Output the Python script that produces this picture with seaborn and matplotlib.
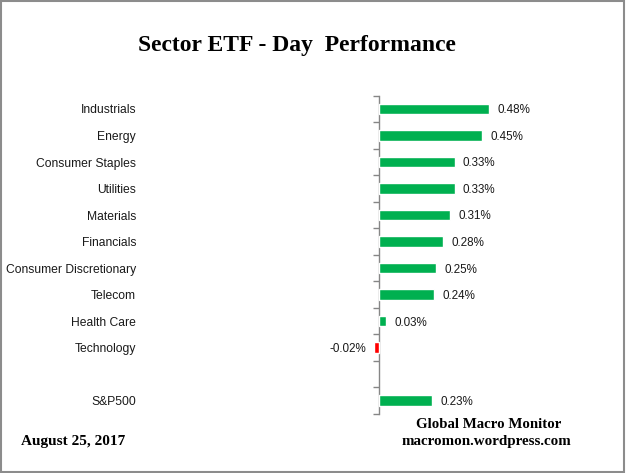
import numpy as np
import pandas as pd
import seaborn as sns
import matplotlib.pyplot as plt
from matplotlib.patches import Rectangle

sectors = ['Industrials', 'Energy', 'Consumer Staples', 'Utilities', 'Materials',
           'Financials', 'Consumer Discretionary', 'Telecom', 'Health Care',
           'Technology', ' ', 'S&P500']
returns = [0.48, 0.45, 0.33, 0.33, 0.31, 0.28, 0.25, 0.24, 0.03, -0.02, np.nan, 0.23]

GREEN = '#00B050'
RED = '#FF0000'
GRID = '#868686'

df = pd.DataFrame({'Sector': sectors, 'Return': returns})
colors = [RED if v < 0 else GREEN for v in returns]

sns.set_style('white')
plt.rcParams['font.family'] = ['Liberation Sans', 'DejaVu Sans']

fig = plt.figure(figsize=(6.26, 4.73), dpi=100)
ax = fig.add_axes([139 / 626, 1 - 414 / 473, (600 - 139) / 626, (414 - 95.7) / 473])

sns.barplot(data=df, y='Sector', x='Return', hue='Sector', order=sectors,
            hue_order=sectors, palette=colors, legend=False, width=0.4,
            saturation=1, orient='h', ax=ax)

ax.set_xlim(-(379 - 139) / 229, (600 - 379) / 229)
ax.set_xlabel('')
ax.set_ylabel('')
ax.set_xticks([])
for s in ax.spines.values():
    s.set_visible(False)
ax.tick_params(axis='y', length=0, pad=2, labelsize=8.7, labelcolor='#1a1a1a')

# category axis drawn at zero, with ticks between categories
sec = ax.secondary_yaxis(0, transform=ax.transData)
sec.set_yticks(np.arange(-0.5, len(sectors), 1))
sec.set_yticklabels([])
sec.tick_params(direction='out', length=4, color=GRID, width=1)
sec.spines['left'].set_color(GRID)
sec.spines['left'].set_linewidth(1)

for i, v in enumerate(returns):
    if np.isnan(v):
        continue
    if v >= 0:
        ax.annotate(f'{v:.2f}%', (v, i), xytext=(6, -1), textcoords='offset points',
                    ha='left', va='center', fontsize=8.4, color='#1a1a1a')
    else:
        ax.annotate(f'{v:.2f}%', (v, i), xytext=(-6, -1), textcoords='offset points',
                    ha='right', va='center', fontsize=8.4, color='#1a1a1a')

serif = ['Liberation Serif', 'DejaVu Serif']
fig.text(297 / 626, 1 - 46 / 473, 'Sector ETF - Day  Performance', ha='center',
         va='center', fontsize=17, fontweight='bold', family=serif, color='black')
fig.text(21 / 626, 1 - 441 / 473, 'August 25, 2017', ha='left', va='center',
         fontsize=11, fontweight='bold', family=serif, color='black')
fig.text(489 / 626, 1 - 424 / 473, 'Global Macro Monitor', ha='center', va='center',
         fontsize=10.7, fontweight='bold', family=serif, color='black')
fig.text(486 / 626, 1 - 441 / 473, 'macromon.wordpress.com', ha='center', va='center',
         fontsize=10.8, fontweight='bold', family=serif, color='black')

fig.patches.append(Rectangle((0.001, 0.002), 0.996, 0.996, transform=fig.transFigure,
                             fill=False, edgecolor='#8c8c8c', linewidth=1.5))

fig.savefig('out.png', dpi=100)
